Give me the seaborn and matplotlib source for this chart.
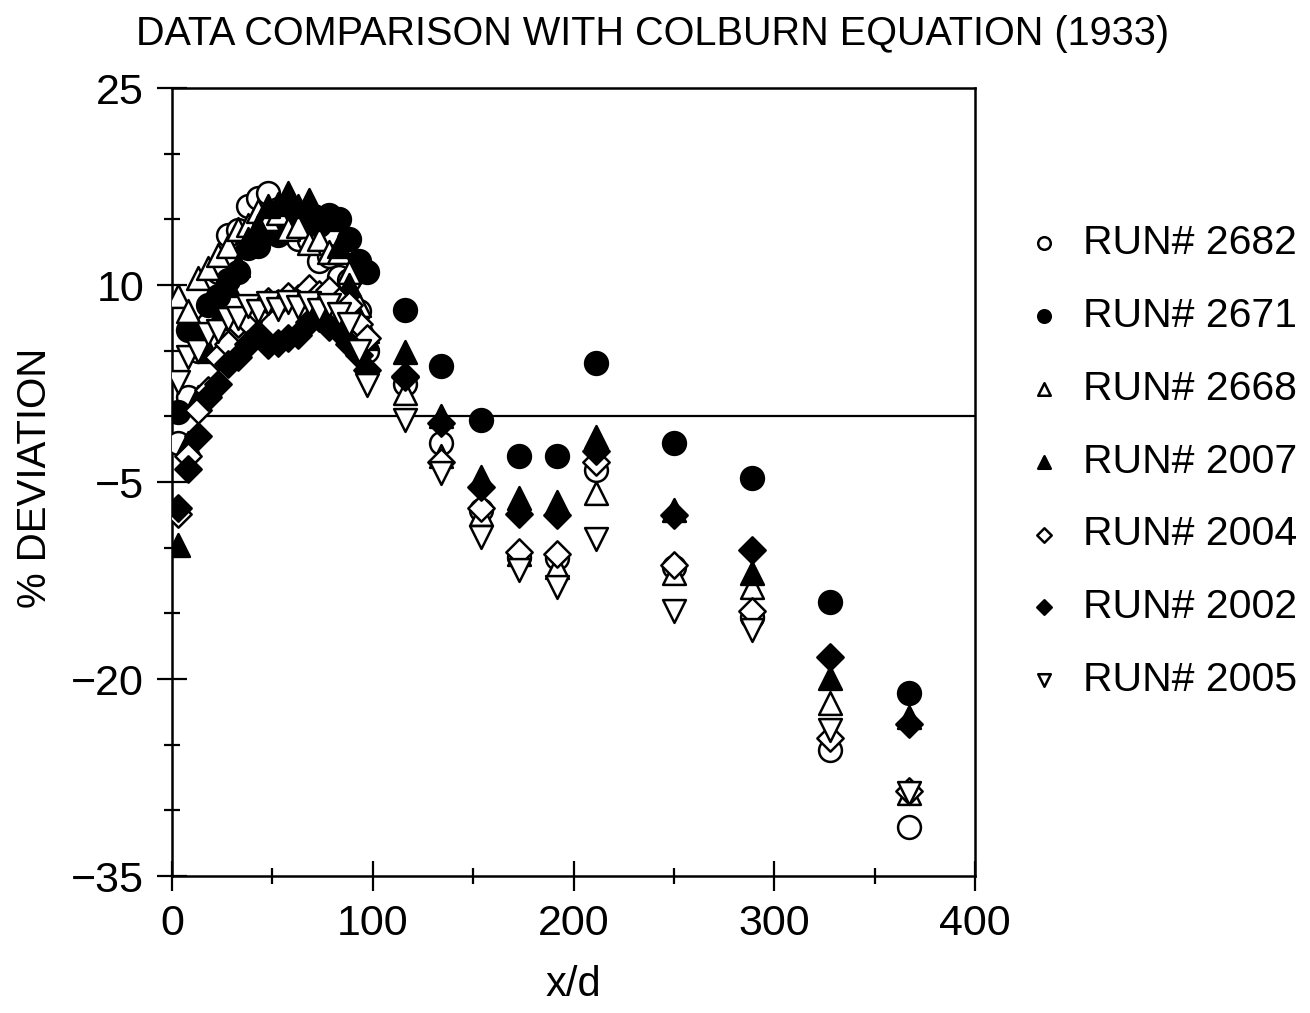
import matplotlib
matplotlib.use("Agg")
import matplotlib.pyplot as plt
import seaborn as sns
import pandas as pd
from matplotlib.ticker import MultipleLocator, FixedLocator

# ---------------- data ----------------
x_positions = [3, 8, 13, 18, 23, 28, 33, 38, 43, 48, 53, 58, 63, 68, 73, 78, 83, 88, 93, 97,
               116, 134, 154, 173, 192, 211, 250, 289, 328, 367]

run_2682 = [-2.0, 1.5, 5.0, 7.0, 11.0, 13.8, 14.2, 16.0, 16.6, 17.0, 15.8, 15.2, 13.5, 13.4, 11.8,
            12.2, 10.6, 10.4, 8.0, 5.0,
            2.5, -2.0, -7.1, -10.7, -10.8, -4.1, -11.5, -15.3, -25.4, -31.3]
run_2671 = [0.3, 6.6, 6.2, 8.5, 9.2, 10.4, 11.0, 12.8, 13.0, 14.3, 13.8, 15.0, 14.4, 15.1, 14.6,
            15.3, 15.0, 13.5, 11.8, 11.0,
            8.1, 3.8, -0.3, -3.0, -3.0, 4.1, -2.0, -4.7, -14.1, -21.1]
run_2668 = [9.2, 8.0, 10.5, 11.3, 12.3, 13.0, 14.3, 14.6, 15.6, 15.0, 15.5, 14.3, 14.5, 13.2, 13.5,
            12.5, 12.5, 11.0, 8.5, 6.5,
            1.8, -3.0, -7.4, -10.5, -11.5, -5.8, -11.9, -13.0, -21.8, -28.7]
run_2007 = [-9.8, -2.0, 1.5, 5.0, 7.5, 10.0, 11.5, 13.5, 14.5, 16.0, 16.2, 17.0, 16.0, 16.5, 15.2,
            15.0, 13.0, 10.0, 7.5, 6.0,
            4.9, 0.0, -4.6, -6.2, -6.5, -1.6, -7.1, -11.9, -19.9, -22.9]
run_2004 = [-7.4, -3.0, 0.5, 2.0, 4.5, 5.5, 7.0, 7.2, 8.0, 8.8, 8.6, 9.2, 9.0, 9.8, 9.3,
            9.6, 8.8, 8.5, 7.0, 6.0,
            3.0, -3.5, -7.0, -10.3, -10.5, -3.5, -11.3, -14.8, -24.5, -28.5]
run_2002 = [-7.0, -4.0, -1.5, 1.5, 2.5, 4.0, 4.5, 5.5, 6.3, 5.4, 5.6, 6.0, 6.2, 7.2, 7.5,
            6.8, 6.5, 5.5, 4.7, 3.5,
            3.1, -0.5, -5.4, -7.4, -7.5, -2.6, -7.5, -10.2, -18.3, -23.4]
run_2005 = [2.6, 4.5, 5.0, 6.3, 6.5, 7.4, 7.5, 8.4, 8.0, 8.6, 8.2, 8.7, 8.3, 8.6, 8.1,
            8.5, 7.8, 7.0, 5.0, 2.4,
            -0.3, -4.3, -9.2, -11.7, -13.0, -9.3, -14.8, -16.3, -23.9, -28.7]

run_labels = ["RUN# 2682", "RUN# 2671", "RUN# 2668", "RUN# 2007", "RUN# 2004", "RUN# 2002", "RUN# 2005"]
run_values = [run_2682, run_2671, run_2668, run_2007, run_2004, run_2002, run_2005]
run_markers = ["o", "o", "^", "^", "D", "D", "v"]
run_filled = [False, True, False, True, False, True, False]

x_ticks_major = [0, 100, 200, 300, 400]
y_ticks_major = [25, 10, -5, -20, -35]

# ---------------- plot ----------------
sns.set_theme(style="white")
plt.rcParams["font.family"] = ["Liberation Sans", "DejaVu Sans"]

fig = plt.figure(figsize=(13.1, 10.13), dpi=100)
ax = fig.add_axes([0.1313, 0.1352, 0.6130, 0.7779])

ax.axhline(0, color="black", lw=1.6, zorder=1)

for lab, vals, mk, filled in zip(run_labels, run_values, run_markers, run_filled):
    df = pd.DataFrame({"x": x_positions, "y": vals})
    size = 270 if mk != "D" else 180
    sns.scatterplot(data=df, x="x", y="y", ax=ax, marker=mk, s=size,
                    facecolor="black" if filled else "white",
                    edgecolor="black", linewidth=1.8, label=lab, zorder=3)

ax.set_xlim(0, 400)
ax.set_ylim(-35, 25)
ax.xaxis.set_major_locator(FixedLocator(x_ticks_major))
ax.xaxis.set_minor_locator(MultipleLocator(50))
ax.yaxis.set_major_locator(FixedLocator(y_ticks_major))
ax.yaxis.set_minor_locator(MultipleLocator(5))
ax.tick_params(axis="both", which="major", direction="inout", length=22, width=1.6,
               labelsize=31, color="black", labelcolor="black", pad=9,
               bottom=True, left=True)
ax.tick_params(axis="both", which="minor", direction="inout", length=11, width=1.6,
               color="black", bottom=True, left=True)
for sp in ax.spines.values():
    sp.set_color("black")
    sp.set_linewidth(1.8)
ax.set_xlabel("")
ax.set_ylabel("")

fig.text(0.498, 0.966, "DATA COMPARISON WITH COLBURN EQUATION (1933)",
         ha="center", va="center", fontsize=28.5, color="black")
fig.text(0.027, 0.528, "% DEVIATION", rotation=90, ha="center", va="center",
         fontsize=29, color="black")
fig.text(0.438, 0.028, "x/d", ha="center", va="center", fontsize=30, color="black")

leg = ax.legend(loc="center left", bbox_to_anchor=(0.766, 0.5444),
                bbox_transform=fig.transFigure, frameon=False, fontsize=29.5,
                markerscale=0.55, labelspacing=0.85, handletextpad=0.45,
                handlelength=1.0, borderpad=0)
for t in leg.get_texts():
    t.set_color("black")

fig.savefig("out.png", dpi=100)
